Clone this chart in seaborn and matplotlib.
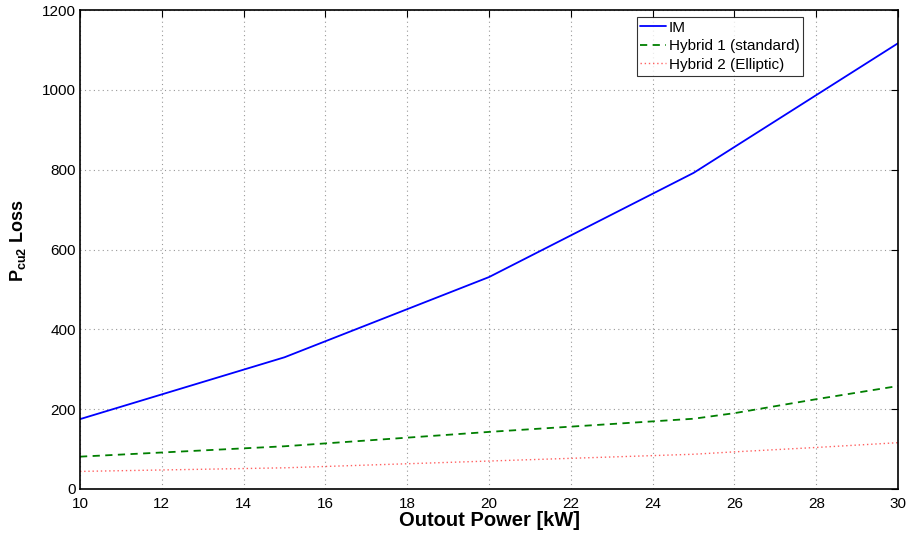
import matplotlib
matplotlib.use("Agg")
import matplotlib.pyplot as plt
import seaborn as sns
import pandas as pd

# Rotor copper loss versus output power for three machine designs
power_im = [10, 15, 20, 25, 30]
loss_im = [175, 330, 531, 792, 1117]

power_hybrid = [10, 15, 20, 25, 26, 28, 30]
loss_hybrid1 = [81, 107, 143, 176, 190, 225, 258]
loss_hybrid2 = [44, 53, 70, 87, 93, 104, 116]

x_ticks = [10, 12, 14, 16, 18, 20, 22, 24, 26, 28, 30]
y_ticks = [0, 200, 400, 600, 800, 1000, 1200]

sns.set_style("white")
plt.rcParams["font.family"] = ["Liberation Sans", "DejaVu Sans"]
plt.rcParams["mathtext.fontset"] = "custom"
plt.rcParams["mathtext.rm"] = "Liberation Sans"
plt.rcParams["mathtext.bf"] = "Liberation Sans:bold"
plt.rcParams["text.color"] = "black"
plt.rcParams["axes.labelcolor"] = "black"
plt.rcParams["xtick.color"] = "black"
plt.rcParams["ytick.color"] = "black"

fig = plt.figure(figsize=(9.09, 5.33), dpi=100)
ax = fig.add_axes([0.088, 0.0826, 0.9, 0.8985])

df_im = pd.DataFrame({"power": power_im, "loss": loss_im})
df_h = pd.DataFrame({"power": power_hybrid, "h1": loss_hybrid1, "h2": loss_hybrid2})

sns.lineplot(data=df_im, x="power", y="loss", ax=ax, color="#0000ff",
             linewidth=1.3, label="IM")
sns.lineplot(data=df_h, x="power", y="h1", ax=ax, color="#007f00",
             linewidth=1.3, linestyle=(0, (4, 3)), label="Hybrid 1 (standard)")
sns.lineplot(data=df_h, x="power", y="h2", ax=ax, color="#ff6060",
             linewidth=1.0, linestyle=(0, (1, 2)), label="Hybrid 2 (Elliptic)")

ax.set_xlim(10, 30)
ax.set_ylim(0, 1200)
ax.set_xticks(x_ticks)
ax.set_yticks(y_ticks)
ax.tick_params(direction="in", length=5, width=0.8, labelsize=11,
               top=True, right=True)
ax.tick_params(axis="x", pad=6)
ax.tick_params(axis="y", pad=3)
ax.grid(True, linestyle=(0, (1, 3)), color="#999999", linewidth=0.8)
for s in ax.spines.values():
    s.set_linewidth(1.2)
    s.set_color("black")

ax.set_xlabel("Outout Power [kW]", fontsize=14.5, fontweight="bold", labelpad=0)
ax.set_ylabel(r"$\mathbf{P_{cu2}}$ Loss", fontsize=13, fontweight="bold")
ax.yaxis.set_label_coords(-0.064, 0.518)

leg = ax.legend(loc="upper right", bbox_to_anchor=(0.884, 0.986), fontsize=11,
                frameon=True, fancybox=False, edgecolor="black",
                handlelength=1.7, handletextpad=0.15, borderpad=0.25,
                labelspacing=0.3, borderaxespad=0)
leg.get_frame().set_linewidth(0.8)

fig.savefig("out.png", dpi=100)
